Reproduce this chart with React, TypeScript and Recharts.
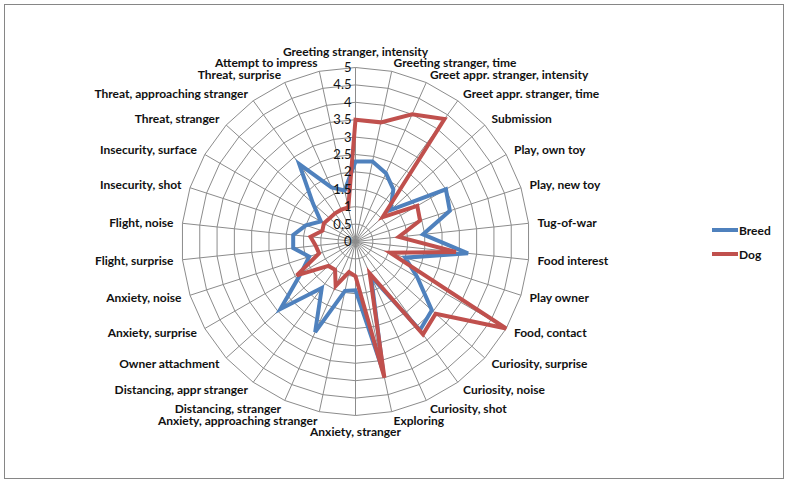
import React from "react";
import { RadarChart, Radar, PolarGrid, PolarAngleAxis, PolarRadiusAxis, Legend } from "recharts";

const categories = [
  "Greeting stranger, intensity",
  "Greeting stranger, time",
  "Greet appr. stranger, intensity",
  "Greet appr. stranger, time",
  "Submission",
  "Play, own toy",
  "Play, new toy",
  "Tug-of-war",
  "Food interest",
  "Play owner",
  "Food, contact",
  "Curiosity, surprise",
  "Curiosity, noise",
  "Curiosity, shot",
  "Exploring",
  "Anxiety, stranger",
  "Anxiety, approaching stranger",
  "Distancing, stranger",
  "Distancing, appr stranger",
  "Owner attachment",
  "Anxiety, surprise",
  "Anxiety, noise",
  "Flight, surprise",
  "Flight, noise",
  "Insecurity, shot",
  "Insecurity, surface",
  "Threat, stranger",
  "Threat, approaching stranger",
  "Threat, surprise",
  "Attempt to impress",
];

const breedValues = [
  2.3, 2.35, 2.15, 1.85, 1.35, 3.0, 2.85, 1.95, 3.25, 1.5,
  2.05, 2.95, 3.15, 1.1, 3.8, 1.4, 1.45, 2.85, 1.65, 2.9,
  1.8, 1.4, 1.8, 1.8, 1.5, 1.15, 1.65, 2.75, 1.7, 1.5,
];

const dogValues = [
  3.5, 3.5, 4.0, 4.35, 1.05, 2.05, 1.95, 1.25, 2.9, 1.05,
  5.0, 3.1, 3.3, 1.0, 4.0, 1.0, 0.9, 1.4, 1.0, 1.05,
  1.95, 1.1, 1.15, 1.3, 1.0, 1.05, 1.0, 1.0, 1.0, 1.0,
];

const radiusTicks = [0, 0.5, 1, 1.5, 2, 2.5, 3, 3.5, 4, 4.5, 5];

const seriesNames = ["Breed", "Dog"];
const seriesColors = ["#4F81BD", "#C0504D"];

const data = categories.map((c, i) => ({
  category: c,
  Breed: breedValues[i],
  Dog: dogValues[i],
}));

const W = 789;
const H = 485;
const CX = 355.5;
const CY = 241.5;
const R = 174;
const FONT = "Lato, 'Open Sans', sans-serif";

const AngleTick = (props: any) => {
  const { payload } = props;
  const angle = payload.coordinate as number;
  const rad = (-angle * Math.PI) / 180;
  const lr = R + 9;
  const cos = Math.cos(rad);
  const sin = Math.sin(rad);
  let x = CX + lr * cos;
  let y = CY + lr * sin;
  let anchor: "start" | "end" | "middle" = "middle";
  if (cos > 1e-3) anchor = "start";
  else if (cos < -1e-3) anchor = "end";
  else {
    y += sin > 0 ? 7 : -7;
  }
  return (
    <text
      x={x}
      y={y}
      dy="0.35em"
      textAnchor={anchor}
      fontFamily={FONT}
      fontWeight="bold"
      fontSize={12}
      fill="#111"
    >
      {payload.value}
    </text>
  );
};

const RadiusTick = (props: any) => {
  const { x, y, payload } = props;
  return (
    <text
      x={x - 4}
      y={y}
      dy="0.35em"
      textAnchor="end"
      fontFamily={FONT}
      fontSize={13}
      fill="#111"
    >
      {payload.value}
    </text>
  );
};

const LegendContent = () => (
  <div style={{ fontFamily: FONT, fontWeight: "bold", fontSize: 12, color: "#111" }}>
    {seriesNames.map((n, i) => (
      <div key={n} style={{ display: "flex", alignItems: "center", height: 24 }}>
        <div style={{ width: 26, height: 4, background: seriesColors[i] }} />
        <span style={{ marginLeft: 1 }}>{n}</span>
      </div>
    ))}
  </div>
);

export default function App() {
  return (
    <div style={{ position: "absolute", left: 0, top: 0, width: W, height: H, background: "#fff" }}>
      <div
        style={{
          position: "absolute",
          left: 4,
          top: 4,
          width: 780,
          height: 475,
          border: "1.5px solid #868686",
          boxSizing: "border-box",
        }}
      />
      <RadarChart
        width={W}
        height={H}
        cx={CX}
        cy={CY}
        outerRadius={R}
        data={data}
        margin={{ top: 0, right: 0, bottom: 0, left: 0 }}
        style={{ position: "absolute", left: 0, top: 0 }}
      >
        <PolarGrid gridType="polygon" stroke="#8c8c8c" strokeWidth={1} />
        <PolarAngleAxis dataKey="category" tick={<AngleTick />} tickLine={false} axisLine={false} />
        <PolarRadiusAxis
          angle={90}
          domain={[0, 5]}
          ticks={radiusTicks as any}
          tickCount={11}
          axisLine={false}
          tick={<RadiusTick />}
        />
        <Radar
          name="Breed"
          dataKey="Breed"
          stroke={seriesColors[0]}
          strokeWidth={4}
          fill="none"
          fillOpacity={0}
          dot={false}
          isAnimationActive={false}
        />
        <Radar
          name="Dog"
          dataKey="Dog"
          stroke={seriesColors[1]}
          strokeWidth={4}
          fill="none"
          fillOpacity={0}
          dot={false}
          isAnimationActive={false}
        />
        <Legend
          content={<LegendContent />}
          wrapperStyle={{ position: "absolute", left: 712, top: 218, width: 70, height: 50 }}
        />
      </RadarChart>
    </div>
  );
}
